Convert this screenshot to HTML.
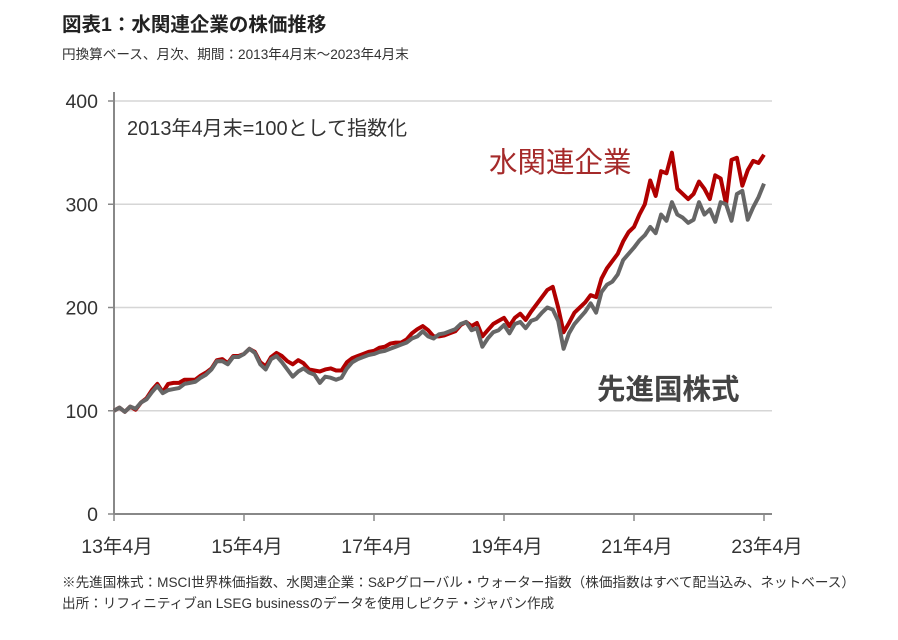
<!DOCTYPE html>
<html><head><meta charset="utf-8"><style>
body{margin:0;background:#fff;width:898px;height:635px;overflow:hidden;font-family:"Liberation Sans","Noto Sans CJK JP",sans-serif;}
</style></head><body>
<svg width="898" height="635" xmlns="http://www.w3.org/2000/svg" font-family="Liberation Sans, Noto Sans CJK JP, sans-serif">
<text x="62" y="31" font-size="19.5" font-weight="bold" fill="#222">図表1：水関連企業の株価推移</text>
<text x="62" y="59" font-size="13.6" fill="#333">円換算ベース、月次、期間：2013年4月末～2023年4月末</text>
<g id="grid"></g>
<g id="axes"></g>
<g id="series"></g>
<text x="127" y="135" font-size="20" fill="#333">2013年4月末=100として指数化</text>
<text x="489" y="172" font-size="28.5" fill="#a52a2a">水関連企業</text>
<text x="597" y="399" font-size="28.5" font-weight="bold" fill="#444">先進国株式</text>
<text x="62" y="587" font-size="13.6" fill="#333">※先進国株式：MSCI世界株価指数、水関連企業：S&amp;Pグローバル・ウォーター指数（株価指数はすべて配当込み、ネットベース）</text>
<text x="62" y="608" font-size="13.6" fill="#333">出所：リフィニティブan LSEG businessのデータを使用しピクテ・ジャパン作成</text>
</svg>
<script>
const yTicks=[0,100,200,300,400];
const xTickLabels=["13年4月","15年4月","17年4月","19年4月","21年4月","23年4月"];
const waterValues=[100,103,99,104,101,108,112,120,126,118,126,127,
127,130,130,130,134,137,141,149,150,146,153,153,
155,160,157,147,143,152,156,153,148,145,149,146,
140,139,138,140,141,139,139,147,151,153,155,157,
158,161,162,165,166,166,169,175,179,182,178,172,
172,173,175,177,183,186,182,185,172,178,184,187,
190,182,190,194,188,196,203,210,217,220,200,176,
185,195,200,205,212,210,228,238,245,252,264,273,
278,290,300,323,308,332,330,350,315,310,305,310,
322,315,305,328,325,300,343,345,318,333,342,340,
348];
const worldValues=[100,103,99,104,102,108,111,118,124,117,120,121,
122,126,127,128,132,135,140,148,148,145,152,152,
155,160,156,145,140,150,153,147,140,133,138,141,
137,135,127,133,132,130,132,141,147,150,152,154,
155,157,158,160,162,164,166,170,172,177,172,170,
174,175,177,179,184,186,178,180,162,170,176,178,
183,175,184,186,180,187,189,195,200,198,187,160,
175,184,190,196,204,195,215,222,225,232,246,252,
258,265,270,278,272,290,284,302,290,287,282,285,
302,290,295,283,302,300,284,310,313,285,297,307,
320];
const NS="http://www.w3.org/2000/svg";
const X0=114,X1=764,Y0=514,Y1=101;
const xs=i=>X0+(X1-X0)*i/120;
const ys=v=>Y0-(Y0-Y1)*v/400;
function mk(tag,attrs,parent){const e=document.createElementNS(NS,tag);for(const k in attrs)e.setAttribute(k,attrs[k]);parent.appendChild(e);return e;}
const grid=document.getElementById('grid'),axes=document.getElementById('axes'),series=document.getElementById('series');
yTicks.forEach(v=>{
  if(v>0){const g=mk('line',{x1:X0,x2:772,y1:ys(v),y2:ys(v),stroke:'#d6d6d6','stroke-width':1.5},grid);
  
  }
  const t=mk('line',{x1:X0-6,x2:X0,y1:ys(v),y2:ys(v),stroke:'#888','stroke-width':1.5},axes);
  
  
  const l=mk('text',{x:98,y:ys(v)+7,'text-anchor':'end','font-size':19.5,fill:'#333'},axes);
  l.textContent=v;
  
  
});
const ya=mk('line',{x1:X0,x2:X0,y1:92,y2:Y0,stroke:'#888','stroke-width':2},axes);


const xa=mk('line',{x1:X0,x2:772,y1:Y0,y2:Y0,stroke:'#888','stroke-width':2},axes);


xTickLabels.forEach((s,k)=>{
  const x=xs(k*24);
  const t=mk('line',{x1:x,x2:x,y1:Y0,y2:Y0+7,stroke:'#888','stroke-width':1.5},axes);
  
  
  const l=mk('text',{x:x+3,y:553,'text-anchor':'middle','font-size':19.5,fill:'#333'},axes);
  l.textContent=s;
  
  
});
function line(vals,color,name){
  const p=mk('polyline',{points:vals.map((v,i)=>xs(i)+','+ys(v)).join(' '),fill:'none',stroke:color,'stroke-width':4,'stroke-linejoin':'round'},series);
  
  
}
line(waterValues,'#b00000','series-water-companies');
line(worldValues,'#666666','series-developed-equities');
</script>
</body></html>
